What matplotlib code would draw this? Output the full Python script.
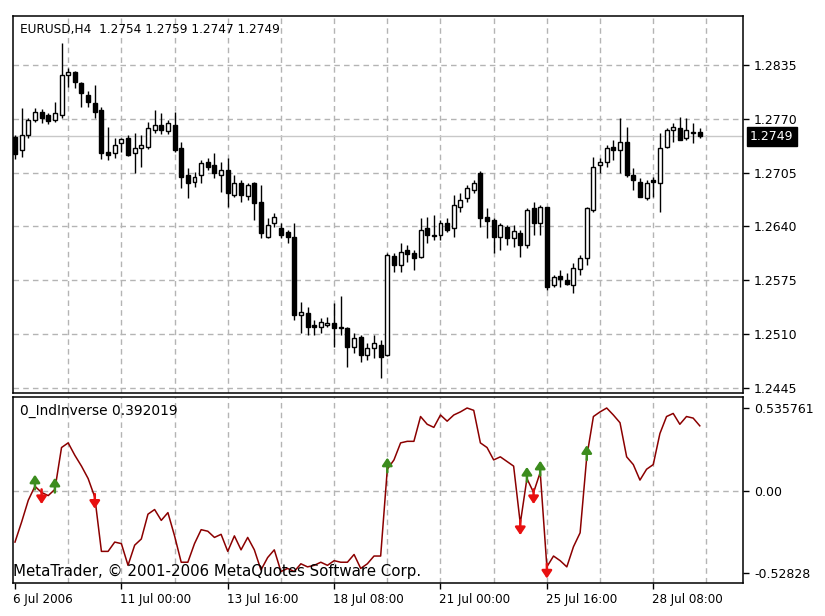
import matplotlib
matplotlib.use("Agg")
import matplotlib.pyplot as plt
import matplotlib.transforms as mtransforms
import numpy as np

# EURUSD H4 bars (O, H, L, C)
opens = [1.2748, 1.2732, 1.2750, 1.2769, 1.2778, 1.2775, 1.2769, 1.2775, 1.2823, 1.2827,
         1.2813, 1.2799, 1.2789, 1.2781, 1.2730, 1.2729, 1.2741, 1.2747, 1.2729, 1.2735,
         1.2736, 1.2756, 1.2763, 1.2755, 1.2762, 1.2735, 1.2702, 1.2694, 1.2702, 1.2718,
         1.2714, 1.2702, 1.2708, 1.2678, 1.2693, 1.2677, 1.2693, 1.2670, 1.2627, 1.2644,
         1.2638, 1.2633, 1.2627, 1.2533, 1.2535, 1.2521, 1.2518, 1.2521, 1.2523, 1.2518,
         1.2517, 1.2494, 1.2506, 1.2485, 1.2493, 1.2497, 1.2485, 1.2604, 1.2593, 1.2611,
         1.2608, 1.2603, 1.2638, 1.2630, 1.2630, 1.2644, 1.2638, 1.2663, 1.2674, 1.2684,
         1.2705, 1.2651, 1.2648, 1.2627, 1.2639, 1.2626, 1.2632, 1.2618, 1.2662, 1.2644,
         1.2663, 1.2569, 1.2580, 1.2575, 1.2569, 1.2588, 1.2602, 1.2660, 1.2714, 1.2718,
         1.2736, 1.2732, 1.2742, 1.2702, 1.2694, 1.2674, 1.2696, 1.2692, 1.2736, 1.2757,
         1.2759, 1.2747, 1.2753, 1.2754]
highs = [1.2750, 1.2783, 1.2771, 1.2783, 1.2782, 1.2777, 1.2790, 1.2862, 1.2831, 1.2828,
         1.2814, 1.2804, 1.2811, 1.2784, 1.2760, 1.2747, 1.2747, 1.2750, 1.2753, 1.2750,
         1.2766, 1.2781, 1.2777, 1.2769, 1.2778, 1.2742, 1.2710, 1.2706, 1.2720, 1.2723,
         1.2729, 1.2718, 1.2723, 1.2702, 1.2696, 1.2693, 1.2694, 1.2690, 1.2650, 1.2656,
         1.2644, 1.2636, 1.2644, 1.2549, 1.2543, 1.2527, 1.2529, 1.2531, 1.2547, 1.2556,
         1.2518, 1.2511, 1.2509, 1.2499, 1.2509, 1.2503, 1.2608, 1.2608, 1.2620, 1.2617,
         1.2611, 1.2650, 1.2651, 1.2654, 1.2648, 1.2650, 1.2678, 1.2680, 1.2690, 1.2696,
         1.2707, 1.2662, 1.2650, 1.2644, 1.2642, 1.2642, 1.2636, 1.2662, 1.2670, 1.2666,
         1.2663, 1.2581, 1.2587, 1.2584, 1.2596, 1.2605, 1.2663, 1.2724, 1.2723, 1.2738,
         1.2744, 1.2771, 1.2760, 1.2711, 1.2699, 1.2696, 1.2700, 1.2753, 1.2759, 1.2765,
         1.2772, 1.2771, 1.2765, 1.2759]
lows = [1.2722, 1.2724, 1.2747, 1.2766, 1.2765, 1.2764, 1.2766, 1.2771, 1.2808, 1.2807,
        1.2784, 1.2784, 1.2771, 1.2721, 1.2720, 1.2723, 1.2730, 1.2725, 1.2705, 1.2712,
        1.2734, 1.2753, 1.2752, 1.2752, 1.2730, 1.2686, 1.2674, 1.2688, 1.2692, 1.2708,
        1.2699, 1.2682, 1.2663, 1.2676, 1.2670, 1.2672, 1.2648, 1.2626, 1.2626, 1.2639,
        1.2626, 1.2620, 1.2527, 1.2511, 1.2509, 1.2509, 1.2511, 1.2518, 1.2494, 1.2509,
        1.2470, 1.2487, 1.2476, 1.2479, 1.2481, 1.2457, 1.2484, 1.2585, 1.2585, 1.2597,
        1.2587, 1.2602, 1.2620, 1.2624, 1.2624, 1.2633, 1.2627, 1.2657, 1.2670, 1.2680,
        1.2639, 1.2626, 1.2608, 1.2611, 1.2618, 1.2615, 1.2603, 1.2614, 1.2630, 1.2630,
        1.2563, 1.2567, 1.2567, 1.2569, 1.2560, 1.2581, 1.2593, 1.2657, 1.2705, 1.2712,
        1.2720, 1.2705, 1.2700, 1.2684, 1.2675, 1.2672, 1.2675, 1.2657, 1.2735, 1.2742,
        1.2744, 1.2744, 1.2741, 1.2747]
closes = [1.2728, 1.2750, 1.2769, 1.2778, 1.2771, 1.2767, 1.2777, 1.2823, 1.2827, 1.2814,
          1.2801, 1.2790, 1.2778, 1.2729, 1.2726, 1.2738, 1.2746, 1.2726, 1.2735, 1.2738,
          1.2759, 1.2763, 1.2756, 1.2765, 1.2732, 1.2700, 1.2692, 1.2700, 1.2717, 1.2712,
          1.2705, 1.2708, 1.2680, 1.2693, 1.2678, 1.2690, 1.2668, 1.2632, 1.2642, 1.2651,
          1.2630, 1.2627, 1.2533, 1.2537, 1.2518, 1.2518, 1.2524, 1.2523, 1.2517, 1.2517,
          1.2494, 1.2505, 1.2485, 1.2493, 1.2499, 1.2482, 1.2605, 1.2593, 1.2609, 1.2607,
          1.2602, 1.2636, 1.2630, 1.2628, 1.2644, 1.2636, 1.2666, 1.2672, 1.2686, 1.2693,
          1.2650, 1.2647, 1.2627, 1.2642, 1.2626, 1.2634, 1.2618, 1.2660, 1.2644, 1.2663,
          1.2567, 1.2579, 1.2576, 1.2571, 1.2590, 1.2602, 1.2662, 1.2712, 1.2718, 1.2735,
          1.2732, 1.2742, 1.2702, 1.2696, 1.2676, 1.2693, 1.2694, 1.2735, 1.2756, 1.2760,
          1.2744, 1.2756, 1.2754, 1.2749]

# 0_IndInverse values per bar
ind = [-0.33, -0.20, -0.06, 0.03, -0.01, -0.03, 0.01, 0.28, 0.31, 0.23,
       0.16, 0.08, -0.04, -0.39, -0.39, -0.33, -0.34, -0.48, -0.35, -0.31,
       -0.15, -0.12, -0.19, -0.14, -0.29, -0.46, -0.46, -0.34, -0.25, -0.26,
       -0.30, -0.28, -0.39, -0.29, -0.38, -0.30, -0.38, -0.51, -0.43, -0.38,
       -0.52, -0.50, -0.52, -0.47, -0.49, -0.48, -0.46, -0.48, -0.45, -0.46,
       -0.46, -0.41, -0.50, -0.47, -0.42, -0.42, 0.14, 0.20, 0.31, 0.32,
       0.32, 0.48, 0.43, 0.41, 0.49, 0.45, 0.49, 0.51, 0.535, 0.52,
       0.31, 0.28, 0.20, 0.22, 0.19, 0.16, -0.21, 0.08, -0.01, 0.12,
       -0.49, -0.42, -0.45, -0.49, -0.36, -0.27, 0.22, 0.48, 0.51, 0.535,
       0.49, 0.44, 0.22, 0.17, 0.07, 0.14, 0.17, 0.37, 0.48, 0.50,
       0.43, 0.48, 0.47, 0.42]
up_sig = [3, 6, 56, 77, 79, 86]
dn_sig = [4, 12, 76, 78, 80]

price_ticks = [1.2835, 1.2770, 1.2705, 1.2640, 1.2575, 1.2510, 1.2445]
ind_ticks = [0.535761, 0.0, -0.52828]
ind_tick_labels = ['0.535761', '0.00', '-0.52828']
date_idx = [0, 16, 32, 48, 64, 80, 96]
date_labels = ['6 Jul 2006', '11 Jul 00:00', '13 Jul 16:00', '18 Jul 08:00',
               '21 Jul 00:00', '25 Jul 16:00', '28 Jul 08:00']
last_price = 1.2749

GRID = '#b4b4b4'
DASH = (0, (4, 3))

fig = plt.figure(figsize=(8.25, 6.16), dpi=100)
ax = fig.add_axes([13/825, 1-393/616, 730/825, 377/616])
ax2 = fig.add_axes([13/825, 1-583/616, 730/825, 186/616])

x = np.arange(len(opens))
xlim = (-0.3, 109.5)

# grids
for a in (ax, ax2):
    for g in range(8, 110, 8):
        a.axvline(g, color=GRID, lw=1, ls=DASH, zorder=0)
for p in price_ticks:
    ax.axhline(p, color=GRID, lw=1, ls=DASH, zorder=0)
ax2.axhline(0, color=GRID, lw=1, ls=DASH, zorder=0)
ax.axhline(last_price, color='#c8c8c8', lw=1, zorder=1)

# candles
o = np.array(opens); c = np.array(closes)
ax.vlines(x, lows, highs, color='black', lw=1, zorder=2)
bull = c >= o
body_h = np.maximum(np.abs(c - o), 0.00004)
ax.bar(x[bull], body_h[bull], bottom=np.minimum(o, c)[bull], width=0.6,
       facecolor='white', edgecolor='black', lw=1, zorder=3)
ax.bar(x[~bull], body_h[~bull], bottom=np.minimum(o, c)[~bull], width=0.6,
       facecolor='black', edgecolor='black', lw=1, zorder=3)

ax.set_xlim(*xlim)
ax.set_ylim(1.24388, 1.28942)
ax.set_xticks([])
ax.set_yticks(price_ticks)
ax.set_yticklabels(['%.4f' % p for p in price_ticks])
ax.yaxis.tick_right()
ax.tick_params(axis='y', length=4, width=1, pad=4, labelsize=9)

ax.text(0.0096, 0.963, 'EURUSD,H4  1.2754 1.2759 1.2747 1.2749', transform=ax.transAxes,
        fontsize=8.7, ha='left', va='center')
tr = mtransforms.blended_transform_factory(ax.transAxes, ax.transData)
ax.text(1.0095, last_price, '%.4f' % last_price, transform=tr, color='white',
        fontsize=9, ha='left', va='center',
        bbox=dict(boxstyle='square,pad=0.25', facecolor='black', edgecolor='black'))

# indicator
ax2.plot(x, ind, color='#8b0000', lw=1.1, zorder=3)
arrow_style = '-|>,head_width=0.3,head_length=0.45'
for i in up_sig:
    ax2.annotate('', xy=(i, ind[i] + 0.075), xytext=(i, ind[i] - 0.02),
                 arrowprops=dict(arrowstyle=arrow_style, color='#3c8c1e', lw=1.8,
                                 shrinkA=0, shrinkB=0, mutation_scale=10), zorder=4)
for i in dn_sig:
    ax2.annotate('', xy=(i, ind[i] - 0.075), xytext=(i, ind[i] + 0.02),
                 arrowprops=dict(arrowstyle=arrow_style, color='#e81010', lw=1.8,
                                 shrinkA=0, shrinkB=0, mutation_scale=10), zorder=4)

ax2.set_xlim(*xlim)
ax2.set_ylim(-0.594, 0.606)
ax2.set_yticks(ind_ticks)
ax2.set_yticklabels(ind_tick_labels)
ax2.yaxis.tick_right()
ax2.tick_params(axis='y', length=4, width=1, pad=4, labelsize=9)
ax2.set_xticks(date_idx)
ax2.set_xticklabels([])
ax2.tick_params(axis='x', length=4, width=1)
trx = mtransforms.blended_transform_factory(ax2.transData, ax2.transAxes)
for i, lab in zip(date_idx, date_labels):
    ax2.text(i - 0.3 if i == 0 else i - 0.15, -0.09, lab, transform=trx, fontsize=8.6,
             ha='left', va='center')

ax2.text(0.0096, 0.925, '0_IndInverse 0.392019', transform=ax2.transAxes,
         fontsize=9.9, ha='left', va='center')
ax2.text(0.0, 0.06, 'MetaTrader, \u00a9 2001-2006 MetaQuotes Software Corp.',
         transform=ax2.transAxes, fontsize=10.8, ha='left', va='center', zorder=5)

for a in (ax, ax2):
    for s in a.spines.values():
        s.set_linewidth(1.1)
        s.set_color('black')

fig.savefig('out.png', dpi=100, facecolor='white')
